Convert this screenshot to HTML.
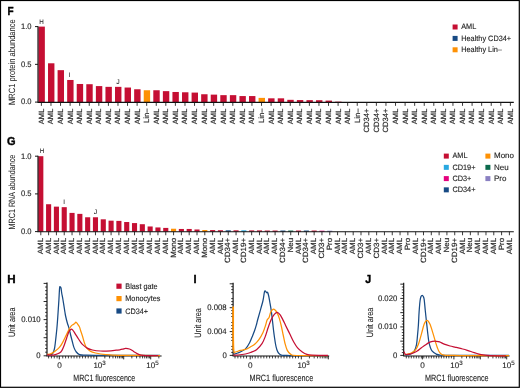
<!DOCTYPE html>
<html><head><meta charset="utf-8"><style>
html,body{margin:0;padding:0;background:#fff;}
svg{display:block;font-family:"Liberation Sans", sans-serif;will-change:transform;text-rendering:geometricPrecision;}
</style></head><body>
<svg width="520" height="388" viewBox="0 0 520 388">
<rect x="0" y="0" width="520" height="388" fill="#fff"/>
<text transform="translate(7.40,14.70) scale(0.86,1)" font-size="11.6" fill="#000" stroke="#000" stroke-width="0.4" font-weight="bold">F</text>
<text transform="translate(7.00,145.00) scale(0.95,1)" font-size="11.6" fill="#000" stroke="#000" stroke-width="0.4" font-weight="bold">G</text>
<text transform="translate(7.30,282.60) scale(1.0,1)" font-size="11.6" fill="#000" stroke="#000" stroke-width="0.4" font-weight="bold">H</text>
<text transform="translate(193.40,283.10) scale(0.95,1)" font-size="11.6" fill="#000" stroke="#000" stroke-width="0.4" font-weight="bold">I</text>
<text transform="translate(365.20,282.50) scale(0.92,1)" font-size="11.6" fill="#000" stroke="#000" stroke-width="0.4" font-weight="bold">J</text>
<rect x="38.45" y="26.60" width="6.40" height="75.75" fill="#c50f33"/>
<rect x="48.02" y="63.29" width="6.40" height="39.06" fill="#c50f33"/>
<rect x="57.59" y="70.16" width="6.40" height="32.19" fill="#c50f33"/>
<rect x="67.16" y="79.98" width="6.40" height="22.37" fill="#c50f33"/>
<rect x="76.73" y="83.98" width="6.40" height="18.37" fill="#c50f33"/>
<rect x="86.30" y="84.21" width="6.40" height="18.14" fill="#c50f33"/>
<rect x="95.88" y="86.09" width="6.40" height="16.26" fill="#c50f33"/>
<rect x="105.45" y="86.85" width="6.40" height="15.50" fill="#c50f33"/>
<rect x="115.02" y="86.85" width="6.40" height="15.50" fill="#c50f33"/>
<rect x="124.59" y="87.53" width="6.40" height="14.82" fill="#c50f33"/>
<rect x="134.16" y="89.26" width="6.40" height="13.09" fill="#c50f33"/>
<rect x="143.73" y="90.25" width="6.40" height="12.10" fill="#fe9104"/>
<rect x="153.30" y="90.25" width="6.40" height="12.10" fill="#c50f33"/>
<rect x="162.87" y="91.15" width="6.40" height="11.20" fill="#c50f33"/>
<rect x="172.44" y="91.98" width="6.40" height="10.37" fill="#c50f33"/>
<rect x="182.02" y="92.28" width="6.40" height="10.06" fill="#c50f33"/>
<rect x="191.59" y="92.59" width="6.40" height="9.76" fill="#c50f33"/>
<rect x="201.16" y="94.25" width="6.40" height="8.10" fill="#c50f33"/>
<rect x="210.73" y="94.63" width="6.40" height="7.72" fill="#c50f33"/>
<rect x="220.30" y="95.15" width="6.40" height="7.20" fill="#c50f33"/>
<rect x="229.87" y="95.15" width="6.40" height="7.20" fill="#c50f33"/>
<rect x="239.44" y="96.06" width="6.40" height="6.29" fill="#c50f33"/>
<rect x="249.01" y="96.06" width="6.40" height="6.29" fill="#c50f33"/>
<rect x="258.58" y="97.87" width="6.40" height="4.48" fill="#fe9104"/>
<rect x="268.15" y="98.32" width="6.40" height="4.03" fill="#c50f33"/>
<rect x="277.73" y="98.32" width="6.40" height="4.03" fill="#c50f33"/>
<rect x="287.30" y="99.83" width="6.40" height="2.52" fill="#c50f33"/>
<rect x="296.87" y="100.06" width="6.40" height="2.29" fill="#c50f33"/>
<rect x="306.44" y="100.14" width="6.40" height="2.21" fill="#c50f33"/>
<rect x="316.01" y="100.21" width="6.40" height="2.14" fill="#c50f33"/>
<rect x="325.58" y="100.59" width="6.40" height="1.76" fill="#c50f33"/>
<rect x="335.15" y="101.65" width="6.40" height="0.70" fill="#c50f33"/>
<path d="M38.0,26.200000000000003 V102.35 H513.8" stroke="#111" stroke-width="1.15" fill="none"/>
<path d="M35,26.60 H38.0" stroke="#1a1a1a" stroke-width="1.0"/>
<text x="31.60" y="28.90" font-size="8.0" text-anchor="end" fill="#222" stroke="#222" stroke-width="0.12" font-weight="normal" textLength="10.56" lengthAdjust="spacingAndGlyphs" >1.0</text>
<path d="M35,64.35 H38.0" stroke="#1a1a1a" stroke-width="1.0"/>
<text x="31.60" y="66.65" font-size="8.0" text-anchor="end" fill="#222" stroke="#222" stroke-width="0.12" font-weight="normal" textLength="10.56" lengthAdjust="spacingAndGlyphs" >0.5</text>
<path d="M35,102.10 H38.0" stroke="#1a1a1a" stroke-width="1.0"/>
<text x="31.60" y="104.40" font-size="8.0" text-anchor="end" fill="#222" stroke="#222" stroke-width="0.12" font-weight="normal" textLength="10.56" lengthAdjust="spacingAndGlyphs" >0.0</text>
<path d="M41.40,102.35 V105.85" stroke="#1a1a1a" stroke-width="0.85"/>
<text transform="translate(43.80,108.60) rotate(-90)" font-size="7.6" text-anchor="end" fill="#222" stroke="#222" stroke-width="0.15" textLength="15.63" lengthAdjust="spacingAndGlyphs">AML</text>
<path d="M50.97,102.35 V105.85" stroke="#1a1a1a" stroke-width="0.85"/>
<text transform="translate(53.37,108.60) rotate(-90)" font-size="7.6" text-anchor="end" fill="#222" stroke="#222" stroke-width="0.15" textLength="15.63" lengthAdjust="spacingAndGlyphs">AML</text>
<path d="M60.54,102.35 V105.85" stroke="#1a1a1a" stroke-width="0.85"/>
<text transform="translate(62.94,108.60) rotate(-90)" font-size="7.6" text-anchor="end" fill="#222" stroke="#222" stroke-width="0.15" textLength="15.63" lengthAdjust="spacingAndGlyphs">AML</text>
<path d="M70.11,102.35 V105.85" stroke="#1a1a1a" stroke-width="0.85"/>
<text transform="translate(72.51,108.60) rotate(-90)" font-size="7.6" text-anchor="end" fill="#222" stroke="#222" stroke-width="0.15" textLength="15.63" lengthAdjust="spacingAndGlyphs">AML</text>
<path d="M79.68,102.35 V105.85" stroke="#1a1a1a" stroke-width="0.85"/>
<text transform="translate(82.08,108.60) rotate(-90)" font-size="7.6" text-anchor="end" fill="#222" stroke="#222" stroke-width="0.15" textLength="15.63" lengthAdjust="spacingAndGlyphs">AML</text>
<path d="M89.25,102.35 V105.85" stroke="#1a1a1a" stroke-width="0.85"/>
<text transform="translate(91.66,108.60) rotate(-90)" font-size="7.6" text-anchor="end" fill="#222" stroke="#222" stroke-width="0.15" textLength="15.63" lengthAdjust="spacingAndGlyphs">AML</text>
<path d="M98.83,102.35 V105.85" stroke="#1a1a1a" stroke-width="0.85"/>
<text transform="translate(101.23,108.60) rotate(-90)" font-size="7.6" text-anchor="end" fill="#222" stroke="#222" stroke-width="0.15" textLength="15.63" lengthAdjust="spacingAndGlyphs">AML</text>
<path d="M108.40,102.35 V105.85" stroke="#1a1a1a" stroke-width="0.85"/>
<text transform="translate(110.80,108.60) rotate(-90)" font-size="7.6" text-anchor="end" fill="#222" stroke="#222" stroke-width="0.15" textLength="15.63" lengthAdjust="spacingAndGlyphs">AML</text>
<path d="M117.97,102.35 V105.85" stroke="#1a1a1a" stroke-width="0.85"/>
<text transform="translate(120.37,108.60) rotate(-90)" font-size="7.6" text-anchor="end" fill="#222" stroke="#222" stroke-width="0.15" textLength="15.63" lengthAdjust="spacingAndGlyphs">AML</text>
<path d="M127.54,102.35 V105.85" stroke="#1a1a1a" stroke-width="0.85"/>
<text transform="translate(129.94,108.60) rotate(-90)" font-size="7.6" text-anchor="end" fill="#222" stroke="#222" stroke-width="0.15" textLength="15.63" lengthAdjust="spacingAndGlyphs">AML</text>
<path d="M137.11,102.35 V105.85" stroke="#1a1a1a" stroke-width="0.85"/>
<text transform="translate(139.51,108.60) rotate(-90)" font-size="7.6" text-anchor="end" fill="#222" stroke="#222" stroke-width="0.15" textLength="15.63" lengthAdjust="spacingAndGlyphs">AML</text>
<path d="M146.68,102.35 V105.85" stroke="#1a1a1a" stroke-width="0.85"/>
<text transform="translate(149.08,108.60) rotate(-90)" font-size="7.6" text-anchor="end" fill="#222" stroke="#222" stroke-width="0.15" textLength="14.37" lengthAdjust="spacingAndGlyphs">Lin&#8211;</text>
<path d="M156.25,102.35 V105.85" stroke="#1a1a1a" stroke-width="0.85"/>
<text transform="translate(158.65,108.60) rotate(-90)" font-size="7.6" text-anchor="end" fill="#222" stroke="#222" stroke-width="0.15" textLength="15.63" lengthAdjust="spacingAndGlyphs">AML</text>
<path d="M165.82,102.35 V105.85" stroke="#1a1a1a" stroke-width="0.85"/>
<text transform="translate(168.22,108.60) rotate(-90)" font-size="7.6" text-anchor="end" fill="#222" stroke="#222" stroke-width="0.15" textLength="15.63" lengthAdjust="spacingAndGlyphs">AML</text>
<path d="M175.39,102.35 V105.85" stroke="#1a1a1a" stroke-width="0.85"/>
<text transform="translate(177.79,108.60) rotate(-90)" font-size="7.6" text-anchor="end" fill="#222" stroke="#222" stroke-width="0.15" textLength="15.63" lengthAdjust="spacingAndGlyphs">AML</text>
<path d="M184.97,102.35 V105.85" stroke="#1a1a1a" stroke-width="0.85"/>
<text transform="translate(187.37,108.60) rotate(-90)" font-size="7.6" text-anchor="end" fill="#222" stroke="#222" stroke-width="0.15" textLength="15.63" lengthAdjust="spacingAndGlyphs">AML</text>
<path d="M194.54,102.35 V105.85" stroke="#1a1a1a" stroke-width="0.85"/>
<text transform="translate(196.94,108.60) rotate(-90)" font-size="7.6" text-anchor="end" fill="#222" stroke="#222" stroke-width="0.15" textLength="15.63" lengthAdjust="spacingAndGlyphs">AML</text>
<path d="M204.11,102.35 V105.85" stroke="#1a1a1a" stroke-width="0.85"/>
<text transform="translate(206.51,108.60) rotate(-90)" font-size="7.6" text-anchor="end" fill="#222" stroke="#222" stroke-width="0.15" textLength="15.63" lengthAdjust="spacingAndGlyphs">AML</text>
<path d="M213.68,102.35 V105.85" stroke="#1a1a1a" stroke-width="0.85"/>
<text transform="translate(216.08,108.60) rotate(-90)" font-size="7.6" text-anchor="end" fill="#222" stroke="#222" stroke-width="0.15" textLength="15.63" lengthAdjust="spacingAndGlyphs">AML</text>
<path d="M223.25,102.35 V105.85" stroke="#1a1a1a" stroke-width="0.85"/>
<text transform="translate(225.65,108.60) rotate(-90)" font-size="7.6" text-anchor="end" fill="#222" stroke="#222" stroke-width="0.15" textLength="15.63" lengthAdjust="spacingAndGlyphs">AML</text>
<path d="M232.82,102.35 V105.85" stroke="#1a1a1a" stroke-width="0.85"/>
<text transform="translate(235.22,108.60) rotate(-90)" font-size="7.6" text-anchor="end" fill="#222" stroke="#222" stroke-width="0.15" textLength="15.63" lengthAdjust="spacingAndGlyphs">AML</text>
<path d="M242.39,102.35 V105.85" stroke="#1a1a1a" stroke-width="0.85"/>
<text transform="translate(244.79,108.60) rotate(-90)" font-size="7.6" text-anchor="end" fill="#222" stroke="#222" stroke-width="0.15" textLength="15.63" lengthAdjust="spacingAndGlyphs">AML</text>
<path d="M251.96,102.35 V105.85" stroke="#1a1a1a" stroke-width="0.85"/>
<text transform="translate(254.36,108.60) rotate(-90)" font-size="7.6" text-anchor="end" fill="#222" stroke="#222" stroke-width="0.15" textLength="15.63" lengthAdjust="spacingAndGlyphs">AML</text>
<path d="M261.53,102.35 V105.85" stroke="#1a1a1a" stroke-width="0.85"/>
<text transform="translate(263.93,108.60) rotate(-90)" font-size="7.6" text-anchor="end" fill="#222" stroke="#222" stroke-width="0.15" textLength="14.37" lengthAdjust="spacingAndGlyphs">Lin&#8211;</text>
<path d="M271.10,102.35 V105.85" stroke="#1a1a1a" stroke-width="0.85"/>
<text transform="translate(273.50,108.60) rotate(-90)" font-size="7.6" text-anchor="end" fill="#222" stroke="#222" stroke-width="0.15" textLength="15.63" lengthAdjust="spacingAndGlyphs">AML</text>
<path d="M280.68,102.35 V105.85" stroke="#1a1a1a" stroke-width="0.85"/>
<text transform="translate(283.07,108.60) rotate(-90)" font-size="7.6" text-anchor="end" fill="#222" stroke="#222" stroke-width="0.15" textLength="15.63" lengthAdjust="spacingAndGlyphs">AML</text>
<path d="M290.25,102.35 V105.85" stroke="#1a1a1a" stroke-width="0.85"/>
<text transform="translate(292.65,108.60) rotate(-90)" font-size="7.6" text-anchor="end" fill="#222" stroke="#222" stroke-width="0.15" textLength="15.63" lengthAdjust="spacingAndGlyphs">AML</text>
<path d="M299.82,102.35 V105.85" stroke="#1a1a1a" stroke-width="0.85"/>
<text transform="translate(302.22,108.60) rotate(-90)" font-size="7.6" text-anchor="end" fill="#222" stroke="#222" stroke-width="0.15" textLength="15.63" lengthAdjust="spacingAndGlyphs">AML</text>
<path d="M309.39,102.35 V105.85" stroke="#1a1a1a" stroke-width="0.85"/>
<text transform="translate(311.79,108.60) rotate(-90)" font-size="7.6" text-anchor="end" fill="#222" stroke="#222" stroke-width="0.15" textLength="15.63" lengthAdjust="spacingAndGlyphs">AML</text>
<path d="M318.96,102.35 V105.85" stroke="#1a1a1a" stroke-width="0.85"/>
<text transform="translate(321.36,108.60) rotate(-90)" font-size="7.6" text-anchor="end" fill="#222" stroke="#222" stroke-width="0.15" textLength="15.63" lengthAdjust="spacingAndGlyphs">AML</text>
<path d="M328.53,102.35 V105.85" stroke="#1a1a1a" stroke-width="0.85"/>
<text transform="translate(330.93,108.60) rotate(-90)" font-size="7.6" text-anchor="end" fill="#222" stroke="#222" stroke-width="0.15" textLength="15.63" lengthAdjust="spacingAndGlyphs">AML</text>
<path d="M338.10,102.35 V105.85" stroke="#1a1a1a" stroke-width="0.85"/>
<text transform="translate(340.50,108.60) rotate(-90)" font-size="7.6" text-anchor="end" fill="#222" stroke="#222" stroke-width="0.15" textLength="15.63" lengthAdjust="spacingAndGlyphs">AML</text>
<path d="M347.67,102.35 V105.85" stroke="#1a1a1a" stroke-width="0.85"/>
<text transform="translate(350.07,108.60) rotate(-90)" font-size="7.6" text-anchor="end" fill="#222" stroke="#222" stroke-width="0.15" textLength="15.63" lengthAdjust="spacingAndGlyphs">AML</text>
<path d="M357.24,102.35 V105.85" stroke="#1a1a1a" stroke-width="0.85"/>
<text transform="translate(359.64,108.60) rotate(-90)" font-size="7.6" text-anchor="end" fill="#222" stroke="#222" stroke-width="0.15" textLength="14.37" lengthAdjust="spacingAndGlyphs">Lin&#8211;</text>
<path d="M366.81,102.35 V105.85" stroke="#1a1a1a" stroke-width="0.85"/>
<text transform="translate(369.21,108.60) rotate(-90)" font-size="7.6" text-anchor="end" fill="#222" stroke="#222" stroke-width="0.15" textLength="23.87" lengthAdjust="spacingAndGlyphs">CD34+</text>
<path d="M376.38,102.35 V105.85" stroke="#1a1a1a" stroke-width="0.85"/>
<text transform="translate(378.78,108.60) rotate(-90)" font-size="7.6" text-anchor="end" fill="#222" stroke="#222" stroke-width="0.15" textLength="23.87" lengthAdjust="spacingAndGlyphs">CD34+</text>
<path d="M385.96,102.35 V105.85" stroke="#1a1a1a" stroke-width="0.85"/>
<text transform="translate(388.36,108.60) rotate(-90)" font-size="7.6" text-anchor="end" fill="#222" stroke="#222" stroke-width="0.15" textLength="23.87" lengthAdjust="spacingAndGlyphs">CD34+</text>
<path d="M395.53,102.35 V105.85" stroke="#1a1a1a" stroke-width="0.85"/>
<text transform="translate(397.93,108.60) rotate(-90)" font-size="7.6" text-anchor="end" fill="#222" stroke="#222" stroke-width="0.15" textLength="15.63" lengthAdjust="spacingAndGlyphs">AML</text>
<path d="M405.10,102.35 V105.85" stroke="#1a1a1a" stroke-width="0.85"/>
<text transform="translate(407.50,108.60) rotate(-90)" font-size="7.6" text-anchor="end" fill="#222" stroke="#222" stroke-width="0.15" textLength="15.63" lengthAdjust="spacingAndGlyphs">AML</text>
<path d="M414.67,102.35 V105.85" stroke="#1a1a1a" stroke-width="0.85"/>
<text transform="translate(417.07,108.60) rotate(-90)" font-size="7.6" text-anchor="end" fill="#222" stroke="#222" stroke-width="0.15" textLength="15.63" lengthAdjust="spacingAndGlyphs">AML</text>
<path d="M424.24,102.35 V105.85" stroke="#1a1a1a" stroke-width="0.85"/>
<text transform="translate(426.64,108.60) rotate(-90)" font-size="7.6" text-anchor="end" fill="#222" stroke="#222" stroke-width="0.15" textLength="15.63" lengthAdjust="spacingAndGlyphs">AML</text>
<path d="M433.81,102.35 V105.85" stroke="#1a1a1a" stroke-width="0.85"/>
<text transform="translate(436.21,108.60) rotate(-90)" font-size="7.6" text-anchor="end" fill="#222" stroke="#222" stroke-width="0.15" textLength="15.63" lengthAdjust="spacingAndGlyphs">AML</text>
<path d="M443.38,102.35 V105.85" stroke="#1a1a1a" stroke-width="0.85"/>
<text transform="translate(445.78,108.60) rotate(-90)" font-size="7.6" text-anchor="end" fill="#222" stroke="#222" stroke-width="0.15" textLength="15.63" lengthAdjust="spacingAndGlyphs">AML</text>
<path d="M452.95,102.35 V105.85" stroke="#1a1a1a" stroke-width="0.85"/>
<text transform="translate(455.35,108.60) rotate(-90)" font-size="7.6" text-anchor="end" fill="#222" stroke="#222" stroke-width="0.15" textLength="15.63" lengthAdjust="spacingAndGlyphs">AML</text>
<path d="M462.52,102.35 V105.85" stroke="#1a1a1a" stroke-width="0.85"/>
<text transform="translate(464.92,108.60) rotate(-90)" font-size="7.6" text-anchor="end" fill="#222" stroke="#222" stroke-width="0.15" textLength="15.63" lengthAdjust="spacingAndGlyphs">AML</text>
<path d="M472.09,102.35 V105.85" stroke="#1a1a1a" stroke-width="0.85"/>
<text transform="translate(474.49,108.60) rotate(-90)" font-size="7.6" text-anchor="end" fill="#222" stroke="#222" stroke-width="0.15" textLength="15.63" lengthAdjust="spacingAndGlyphs">AML</text>
<path d="M481.67,102.35 V105.85" stroke="#1a1a1a" stroke-width="0.85"/>
<text transform="translate(484.07,108.60) rotate(-90)" font-size="7.6" text-anchor="end" fill="#222" stroke="#222" stroke-width="0.15" textLength="15.63" lengthAdjust="spacingAndGlyphs">AML</text>
<path d="M491.24,102.35 V105.85" stroke="#1a1a1a" stroke-width="0.85"/>
<text transform="translate(493.64,108.60) rotate(-90)" font-size="7.6" text-anchor="end" fill="#222" stroke="#222" stroke-width="0.15" textLength="15.63" lengthAdjust="spacingAndGlyphs">AML</text>
<path d="M500.81,102.35 V105.85" stroke="#1a1a1a" stroke-width="0.85"/>
<text transform="translate(503.21,108.60) rotate(-90)" font-size="7.6" text-anchor="end" fill="#222" stroke="#222" stroke-width="0.15" textLength="15.63" lengthAdjust="spacingAndGlyphs">AML</text>
<path d="M510.38,102.35 V105.85" stroke="#1a1a1a" stroke-width="0.85"/>
<text transform="translate(512.78,108.60) rotate(-90)" font-size="7.6" text-anchor="end" fill="#222" stroke="#222" stroke-width="0.15" textLength="15.63" lengthAdjust="spacingAndGlyphs">AML</text>
<text transform="translate(14.50,62.15) rotate(-90)" font-size="9.1" text-anchor="middle" fill="#222" stroke="#222" stroke-width="0.03" textLength="85.50" lengthAdjust="spacingAndGlyphs">MRC1 protein abundance</text>
<text x="41.40" y="23.70" font-size="6.6" text-anchor="middle" fill="#222" stroke="#222" stroke-width="0.06" font-weight="normal" textLength="4.53" lengthAdjust="spacingAndGlyphs" >H</text>
<text x="69.51" y="76.60" font-size="6.6" text-anchor="middle" fill="#222" stroke="#222" stroke-width="0.06" font-weight="normal" textLength="1.74" lengthAdjust="spacingAndGlyphs" >I</text>
<text x="117.97" y="83.80" font-size="6.6" text-anchor="middle" fill="#222" stroke="#222" stroke-width="0.06" font-weight="normal" textLength="3.13" lengthAdjust="spacingAndGlyphs" >J</text>
<rect x="38.25" y="156.20" width="5.10" height="75.55" fill="#c50f33"/>
<rect x="46.06" y="204.23" width="5.10" height="27.52" fill="#c50f33"/>
<rect x="53.87" y="206.64" width="5.10" height="25.11" fill="#c50f33"/>
<rect x="61.68" y="207.17" width="5.10" height="24.58" fill="#c50f33"/>
<rect x="69.49" y="212.90" width="5.10" height="18.85" fill="#c50f33"/>
<rect x="77.30" y="213.88" width="5.10" height="17.87" fill="#c50f33"/>
<rect x="85.11" y="217.27" width="5.10" height="14.48" fill="#c50f33"/>
<rect x="92.92" y="217.27" width="5.10" height="14.48" fill="#c50f33"/>
<rect x="100.73" y="219.31" width="5.10" height="12.44" fill="#c50f33"/>
<rect x="108.54" y="220.67" width="5.10" height="11.08" fill="#c50f33"/>
<rect x="116.35" y="220.89" width="5.10" height="10.86" fill="#c50f33"/>
<rect x="124.16" y="222.02" width="5.10" height="9.73" fill="#c50f33"/>
<rect x="131.97" y="223.08" width="5.10" height="8.67" fill="#c50f33"/>
<rect x="139.78" y="224.21" width="5.10" height="7.54" fill="#c50f33"/>
<rect x="147.59" y="226.47" width="5.10" height="5.28" fill="#c50f33"/>
<rect x="155.40" y="227.45" width="5.10" height="4.30" fill="#c50f33"/>
<rect x="163.21" y="227.91" width="5.10" height="3.84" fill="#c50f33"/>
<rect x="171.02" y="228.73" width="5.10" height="3.02" fill="#fe9104"/>
<rect x="178.83" y="228.96" width="5.10" height="2.79" fill="#c50f33"/>
<rect x="186.64" y="228.96" width="5.10" height="2.79" fill="#c50f33"/>
<rect x="194.45" y="229.49" width="5.10" height="2.26" fill="#c50f33"/>
<rect x="202.26" y="230.02" width="5.10" height="1.73" fill="#fe9104"/>
<rect x="210.07" y="230.09" width="5.10" height="1.66" fill="#c50f33"/>
<rect x="217.88" y="230.24" width="5.10" height="1.51" fill="#c50f33"/>
<rect x="225.69" y="230.32" width="5.10" height="1.43" fill="#174a84"/>
<rect x="233.50" y="230.32" width="5.10" height="1.43" fill="#c50f33"/>
<rect x="241.31" y="230.32" width="5.10" height="1.43" fill="#29a8e0"/>
<rect x="249.12" y="230.39" width="5.10" height="1.36" fill="#c50f33"/>
<rect x="256.93" y="230.39" width="5.10" height="1.36" fill="#c50f33"/>
<rect x="264.74" y="230.54" width="5.10" height="1.21" fill="#c50f33"/>
<rect x="272.55" y="230.54" width="5.10" height="1.21" fill="#c50f33"/>
<rect x="280.36" y="230.54" width="5.10" height="1.21" fill="#174a84"/>
<rect x="288.17" y="230.54" width="5.10" height="1.21" fill="#0b6a4c"/>
<rect x="295.98" y="230.54" width="5.10" height="1.21" fill="#c50f33"/>
<rect x="303.79" y="230.54" width="5.10" height="1.21" fill="#174a84"/>
<rect x="311.60" y="230.54" width="5.10" height="1.21" fill="#c50f33"/>
<rect x="319.41" y="230.70" width="5.10" height="1.05" fill="#e5007e"/>
<rect x="327.22" y="230.70" width="5.10" height="1.05" fill="#8a80c2"/>
<path d="M38.0,155.79999999999998 V231.75 H513.8" stroke="#111" stroke-width="1.15" fill="none"/>
<path d="M35,156.20 H38.0" stroke="#1a1a1a" stroke-width="1.0"/>
<text x="31.60" y="158.50" font-size="8.0" text-anchor="end" fill="#222" stroke="#222" stroke-width="0.12" font-weight="normal" textLength="10.56" lengthAdjust="spacingAndGlyphs" >1.0</text>
<path d="M35,193.90 H38.0" stroke="#1a1a1a" stroke-width="1.0"/>
<text x="31.60" y="196.20" font-size="8.0" text-anchor="end" fill="#222" stroke="#222" stroke-width="0.12" font-weight="normal" textLength="10.56" lengthAdjust="spacingAndGlyphs" >0.5</text>
<path d="M35,231.60 H38.0" stroke="#1a1a1a" stroke-width="1.0"/>
<text x="31.60" y="233.90" font-size="8.0" text-anchor="end" fill="#222" stroke="#222" stroke-width="0.12" font-weight="normal" textLength="10.56" lengthAdjust="spacingAndGlyphs" >0.0</text>
<path d="M40.80,231.75 V235.25" stroke="#1a1a1a" stroke-width="0.85"/>
<text transform="translate(42.90,237.90) rotate(-90)" font-size="7.6" text-anchor="end" fill="#222" stroke="#222" stroke-width="0.15" textLength="16.41" lengthAdjust="spacingAndGlyphs">AML</text>
<path d="M48.61,231.75 V235.25" stroke="#1a1a1a" stroke-width="0.85"/>
<text transform="translate(50.71,237.90) rotate(-90)" font-size="7.6" text-anchor="end" fill="#222" stroke="#222" stroke-width="0.15" textLength="16.41" lengthAdjust="spacingAndGlyphs">AML</text>
<path d="M56.42,231.75 V235.25" stroke="#1a1a1a" stroke-width="0.85"/>
<text transform="translate(58.52,237.90) rotate(-90)" font-size="7.6" text-anchor="end" fill="#222" stroke="#222" stroke-width="0.15" textLength="16.41" lengthAdjust="spacingAndGlyphs">AML</text>
<path d="M64.23,231.75 V235.25" stroke="#1a1a1a" stroke-width="0.85"/>
<text transform="translate(66.33,237.90) rotate(-90)" font-size="7.6" text-anchor="end" fill="#222" stroke="#222" stroke-width="0.15" textLength="16.41" lengthAdjust="spacingAndGlyphs">AML</text>
<path d="M72.04,231.75 V235.25" stroke="#1a1a1a" stroke-width="0.85"/>
<text transform="translate(74.14,237.90) rotate(-90)" font-size="7.6" text-anchor="end" fill="#222" stroke="#222" stroke-width="0.15" textLength="16.41" lengthAdjust="spacingAndGlyphs">AML</text>
<path d="M79.85,231.75 V235.25" stroke="#1a1a1a" stroke-width="0.85"/>
<text transform="translate(81.95,237.90) rotate(-90)" font-size="7.6" text-anchor="end" fill="#222" stroke="#222" stroke-width="0.15" textLength="16.41" lengthAdjust="spacingAndGlyphs">AML</text>
<path d="M87.66,231.75 V235.25" stroke="#1a1a1a" stroke-width="0.85"/>
<text transform="translate(89.76,237.90) rotate(-90)" font-size="7.6" text-anchor="end" fill="#222" stroke="#222" stroke-width="0.15" textLength="16.41" lengthAdjust="spacingAndGlyphs">AML</text>
<path d="M95.47,231.75 V235.25" stroke="#1a1a1a" stroke-width="0.85"/>
<text transform="translate(97.57,237.90) rotate(-90)" font-size="7.6" text-anchor="end" fill="#222" stroke="#222" stroke-width="0.15" textLength="16.41" lengthAdjust="spacingAndGlyphs">AML</text>
<path d="M103.28,231.75 V235.25" stroke="#1a1a1a" stroke-width="0.85"/>
<text transform="translate(105.38,237.90) rotate(-90)" font-size="7.6" text-anchor="end" fill="#222" stroke="#222" stroke-width="0.15" textLength="16.41" lengthAdjust="spacingAndGlyphs">AML</text>
<path d="M111.09,231.75 V235.25" stroke="#1a1a1a" stroke-width="0.85"/>
<text transform="translate(113.19,237.90) rotate(-90)" font-size="7.6" text-anchor="end" fill="#222" stroke="#222" stroke-width="0.15" textLength="16.41" lengthAdjust="spacingAndGlyphs">AML</text>
<path d="M118.90,231.75 V235.25" stroke="#1a1a1a" stroke-width="0.85"/>
<text transform="translate(121.00,237.90) rotate(-90)" font-size="7.6" text-anchor="end" fill="#222" stroke="#222" stroke-width="0.15" textLength="16.41" lengthAdjust="spacingAndGlyphs">AML</text>
<path d="M126.71,231.75 V235.25" stroke="#1a1a1a" stroke-width="0.85"/>
<text transform="translate(128.81,237.90) rotate(-90)" font-size="7.6" text-anchor="end" fill="#222" stroke="#222" stroke-width="0.15" textLength="16.41" lengthAdjust="spacingAndGlyphs">AML</text>
<path d="M134.52,231.75 V235.25" stroke="#1a1a1a" stroke-width="0.85"/>
<text transform="translate(136.62,237.90) rotate(-90)" font-size="7.6" text-anchor="end" fill="#222" stroke="#222" stroke-width="0.15" textLength="16.41" lengthAdjust="spacingAndGlyphs">AML</text>
<path d="M142.33,231.75 V235.25" stroke="#1a1a1a" stroke-width="0.85"/>
<text transform="translate(144.43,237.90) rotate(-90)" font-size="7.6" text-anchor="end" fill="#222" stroke="#222" stroke-width="0.15" textLength="16.41" lengthAdjust="spacingAndGlyphs">AML</text>
<path d="M150.14,231.75 V235.25" stroke="#1a1a1a" stroke-width="0.85"/>
<text transform="translate(152.24,237.90) rotate(-90)" font-size="7.6" text-anchor="end" fill="#222" stroke="#222" stroke-width="0.15" textLength="16.41" lengthAdjust="spacingAndGlyphs">AML</text>
<path d="M157.95,231.75 V235.25" stroke="#1a1a1a" stroke-width="0.85"/>
<text transform="translate(160.05,237.90) rotate(-90)" font-size="7.6" text-anchor="end" fill="#222" stroke="#222" stroke-width="0.15" textLength="16.41" lengthAdjust="spacingAndGlyphs">AML</text>
<path d="M165.76,231.75 V235.25" stroke="#1a1a1a" stroke-width="0.85"/>
<text transform="translate(167.86,237.90) rotate(-90)" font-size="7.6" text-anchor="end" fill="#222" stroke="#222" stroke-width="0.15" textLength="16.41" lengthAdjust="spacingAndGlyphs">AML</text>
<path d="M173.57,231.75 V235.25" stroke="#1a1a1a" stroke-width="0.85"/>
<text transform="translate(175.67,237.90) rotate(-90)" font-size="7.6" text-anchor="end" fill="#222" stroke="#222" stroke-width="0.15" textLength="19.96" lengthAdjust="spacingAndGlyphs">Mono</text>
<path d="M181.38,231.75 V235.25" stroke="#1a1a1a" stroke-width="0.85"/>
<text transform="translate(183.48,237.90) rotate(-90)" font-size="7.6" text-anchor="end" fill="#222" stroke="#222" stroke-width="0.15" textLength="16.41" lengthAdjust="spacingAndGlyphs">AML</text>
<path d="M189.19,231.75 V235.25" stroke="#1a1a1a" stroke-width="0.85"/>
<text transform="translate(191.29,237.90) rotate(-90)" font-size="7.6" text-anchor="end" fill="#222" stroke="#222" stroke-width="0.15" textLength="16.41" lengthAdjust="spacingAndGlyphs">AML</text>
<path d="M197.00,231.75 V235.25" stroke="#1a1a1a" stroke-width="0.85"/>
<text transform="translate(199.10,237.90) rotate(-90)" font-size="7.6" text-anchor="end" fill="#222" stroke="#222" stroke-width="0.15" textLength="16.41" lengthAdjust="spacingAndGlyphs">AML</text>
<path d="M204.81,231.75 V235.25" stroke="#1a1a1a" stroke-width="0.85"/>
<text transform="translate(206.91,237.90) rotate(-90)" font-size="7.6" text-anchor="end" fill="#222" stroke="#222" stroke-width="0.15" textLength="19.96" lengthAdjust="spacingAndGlyphs">Mono</text>
<path d="M212.62,231.75 V235.25" stroke="#1a1a1a" stroke-width="0.85"/>
<text transform="translate(214.72,237.90) rotate(-90)" font-size="7.6" text-anchor="end" fill="#222" stroke="#222" stroke-width="0.15" textLength="16.41" lengthAdjust="spacingAndGlyphs">AML</text>
<path d="M220.43,231.75 V235.25" stroke="#1a1a1a" stroke-width="0.85"/>
<text transform="translate(222.53,237.90) rotate(-90)" font-size="7.6" text-anchor="end" fill="#222" stroke="#222" stroke-width="0.15" textLength="16.41" lengthAdjust="spacingAndGlyphs">AML</text>
<path d="M228.24,231.75 V235.25" stroke="#1a1a1a" stroke-width="0.85"/>
<text transform="translate(230.34,237.90) rotate(-90)" font-size="7.6" text-anchor="end" fill="#222" stroke="#222" stroke-width="0.15" textLength="25.06" lengthAdjust="spacingAndGlyphs">CD34+</text>
<path d="M236.05,231.75 V235.25" stroke="#1a1a1a" stroke-width="0.85"/>
<text transform="translate(238.15,237.90) rotate(-90)" font-size="7.6" text-anchor="end" fill="#222" stroke="#222" stroke-width="0.15" textLength="16.41" lengthAdjust="spacingAndGlyphs">AML</text>
<path d="M243.86,231.75 V235.25" stroke="#1a1a1a" stroke-width="0.85"/>
<text transform="translate(245.96,237.90) rotate(-90)" font-size="7.6" text-anchor="end" fill="#222" stroke="#222" stroke-width="0.15" textLength="25.06" lengthAdjust="spacingAndGlyphs">CD19+</text>
<path d="M251.67,231.75 V235.25" stroke="#1a1a1a" stroke-width="0.85"/>
<text transform="translate(253.77,237.90) rotate(-90)" font-size="7.6" text-anchor="end" fill="#222" stroke="#222" stroke-width="0.15" textLength="16.41" lengthAdjust="spacingAndGlyphs">AML</text>
<path d="M259.48,231.75 V235.25" stroke="#1a1a1a" stroke-width="0.85"/>
<text transform="translate(261.58,237.90) rotate(-90)" font-size="7.6" text-anchor="end" fill="#222" stroke="#222" stroke-width="0.15" textLength="16.41" lengthAdjust="spacingAndGlyphs">AML</text>
<path d="M267.29,231.75 V235.25" stroke="#1a1a1a" stroke-width="0.85"/>
<text transform="translate(269.39,237.90) rotate(-90)" font-size="7.6" text-anchor="end" fill="#222" stroke="#222" stroke-width="0.15" textLength="16.41" lengthAdjust="spacingAndGlyphs">AML</text>
<path d="M275.10,231.75 V235.25" stroke="#1a1a1a" stroke-width="0.85"/>
<text transform="translate(277.20,237.90) rotate(-90)" font-size="7.6" text-anchor="end" fill="#222" stroke="#222" stroke-width="0.15" textLength="16.41" lengthAdjust="spacingAndGlyphs">AML</text>
<path d="M282.91,231.75 V235.25" stroke="#1a1a1a" stroke-width="0.85"/>
<text transform="translate(285.01,237.90) rotate(-90)" font-size="7.6" text-anchor="end" fill="#222" stroke="#222" stroke-width="0.15" textLength="25.06" lengthAdjust="spacingAndGlyphs">CD34+</text>
<path d="M290.72,231.75 V235.25" stroke="#1a1a1a" stroke-width="0.85"/>
<text transform="translate(292.82,237.90) rotate(-90)" font-size="7.6" text-anchor="end" fill="#222" stroke="#222" stroke-width="0.15" textLength="14.64" lengthAdjust="spacingAndGlyphs">Neu</text>
<path d="M298.53,231.75 V235.25" stroke="#1a1a1a" stroke-width="0.85"/>
<text transform="translate(300.63,237.90) rotate(-90)" font-size="7.6" text-anchor="end" fill="#222" stroke="#222" stroke-width="0.15" textLength="16.41" lengthAdjust="spacingAndGlyphs">AML</text>
<path d="M306.34,231.75 V235.25" stroke="#1a1a1a" stroke-width="0.85"/>
<text transform="translate(308.44,237.90) rotate(-90)" font-size="7.6" text-anchor="end" fill="#222" stroke="#222" stroke-width="0.15" textLength="25.06" lengthAdjust="spacingAndGlyphs">CD34+</text>
<path d="M314.15,231.75 V235.25" stroke="#1a1a1a" stroke-width="0.85"/>
<text transform="translate(316.25,237.90) rotate(-90)" font-size="7.6" text-anchor="end" fill="#222" stroke="#222" stroke-width="0.15" textLength="16.41" lengthAdjust="spacingAndGlyphs">AML</text>
<path d="M321.96,231.75 V235.25" stroke="#1a1a1a" stroke-width="0.85"/>
<text transform="translate(324.06,237.90) rotate(-90)" font-size="7.6" text-anchor="end" fill="#222" stroke="#222" stroke-width="0.15" textLength="20.62" lengthAdjust="spacingAndGlyphs">CD3+</text>
<path d="M329.77,231.75 V235.25" stroke="#1a1a1a" stroke-width="0.85"/>
<text transform="translate(331.87,237.90) rotate(-90)" font-size="7.6" text-anchor="end" fill="#222" stroke="#222" stroke-width="0.15" textLength="12.42" lengthAdjust="spacingAndGlyphs">Pro</text>
<path d="M337.58,231.75 V235.25" stroke="#1a1a1a" stroke-width="0.85"/>
<text transform="translate(339.68,237.90) rotate(-90)" font-size="7.6" text-anchor="end" fill="#222" stroke="#222" stroke-width="0.15" textLength="16.41" lengthAdjust="spacingAndGlyphs">AML</text>
<path d="M345.39,231.75 V235.25" stroke="#1a1a1a" stroke-width="0.85"/>
<text transform="translate(347.49,237.90) rotate(-90)" font-size="7.6" text-anchor="end" fill="#222" stroke="#222" stroke-width="0.15" textLength="16.41" lengthAdjust="spacingAndGlyphs">AML</text>
<path d="M353.20,231.75 V235.25" stroke="#1a1a1a" stroke-width="0.85"/>
<text transform="translate(355.30,237.90) rotate(-90)" font-size="7.6" text-anchor="end" fill="#222" stroke="#222" stroke-width="0.15" textLength="16.41" lengthAdjust="spacingAndGlyphs">AML</text>
<path d="M361.01,231.75 V235.25" stroke="#1a1a1a" stroke-width="0.85"/>
<text transform="translate(363.11,237.90) rotate(-90)" font-size="7.6" text-anchor="end" fill="#222" stroke="#222" stroke-width="0.15" textLength="20.62" lengthAdjust="spacingAndGlyphs">CD3+</text>
<path d="M368.82,231.75 V235.25" stroke="#1a1a1a" stroke-width="0.85"/>
<text transform="translate(370.92,237.90) rotate(-90)" font-size="7.6" text-anchor="end" fill="#222" stroke="#222" stroke-width="0.15" textLength="16.41" lengthAdjust="spacingAndGlyphs">AML</text>
<path d="M376.63,231.75 V235.25" stroke="#1a1a1a" stroke-width="0.85"/>
<text transform="translate(378.73,237.90) rotate(-90)" font-size="7.6" text-anchor="end" fill="#222" stroke="#222" stroke-width="0.15" textLength="20.62" lengthAdjust="spacingAndGlyphs">CD3+</text>
<path d="M384.44,231.75 V235.25" stroke="#1a1a1a" stroke-width="0.85"/>
<text transform="translate(386.54,237.90) rotate(-90)" font-size="7.6" text-anchor="end" fill="#222" stroke="#222" stroke-width="0.15" textLength="16.41" lengthAdjust="spacingAndGlyphs">AML</text>
<path d="M392.25,231.75 V235.25" stroke="#1a1a1a" stroke-width="0.85"/>
<text transform="translate(394.35,237.90) rotate(-90)" font-size="7.6" text-anchor="end" fill="#222" stroke="#222" stroke-width="0.15" textLength="16.41" lengthAdjust="spacingAndGlyphs">AML</text>
<path d="M400.06,231.75 V235.25" stroke="#1a1a1a" stroke-width="0.85"/>
<text transform="translate(402.16,237.90) rotate(-90)" font-size="7.6" text-anchor="end" fill="#222" stroke="#222" stroke-width="0.15" textLength="16.41" lengthAdjust="spacingAndGlyphs">AML</text>
<path d="M407.87,231.75 V235.25" stroke="#1a1a1a" stroke-width="0.85"/>
<text transform="translate(409.97,237.90) rotate(-90)" font-size="7.6" text-anchor="end" fill="#222" stroke="#222" stroke-width="0.15" textLength="12.42" lengthAdjust="spacingAndGlyphs">Pro</text>
<path d="M415.68,231.75 V235.25" stroke="#1a1a1a" stroke-width="0.85"/>
<text transform="translate(417.78,237.90) rotate(-90)" font-size="7.6" text-anchor="end" fill="#222" stroke="#222" stroke-width="0.15" textLength="16.41" lengthAdjust="spacingAndGlyphs">AML</text>
<path d="M423.49,231.75 V235.25" stroke="#1a1a1a" stroke-width="0.85"/>
<text transform="translate(425.59,237.90) rotate(-90)" font-size="7.6" text-anchor="end" fill="#222" stroke="#222" stroke-width="0.15" textLength="25.06" lengthAdjust="spacingAndGlyphs">CD19+</text>
<path d="M431.30,231.75 V235.25" stroke="#1a1a1a" stroke-width="0.85"/>
<text transform="translate(433.40,237.90) rotate(-90)" font-size="7.6" text-anchor="end" fill="#222" stroke="#222" stroke-width="0.15" textLength="16.41" lengthAdjust="spacingAndGlyphs">AML</text>
<path d="M439.11,231.75 V235.25" stroke="#1a1a1a" stroke-width="0.85"/>
<text transform="translate(441.21,237.90) rotate(-90)" font-size="7.6" text-anchor="end" fill="#222" stroke="#222" stroke-width="0.15" textLength="16.41" lengthAdjust="spacingAndGlyphs">AML</text>
<path d="M446.92,231.75 V235.25" stroke="#1a1a1a" stroke-width="0.85"/>
<text transform="translate(449.02,237.90) rotate(-90)" font-size="7.6" text-anchor="end" fill="#222" stroke="#222" stroke-width="0.15" textLength="14.64" lengthAdjust="spacingAndGlyphs">Neu</text>
<path d="M454.73,231.75 V235.25" stroke="#1a1a1a" stroke-width="0.85"/>
<text transform="translate(456.83,237.90) rotate(-90)" font-size="7.6" text-anchor="end" fill="#222" stroke="#222" stroke-width="0.15" textLength="25.06" lengthAdjust="spacingAndGlyphs">CD19+</text>
<path d="M462.54,231.75 V235.25" stroke="#1a1a1a" stroke-width="0.85"/>
<text transform="translate(464.64,237.90) rotate(-90)" font-size="7.6" text-anchor="end" fill="#222" stroke="#222" stroke-width="0.15" textLength="16.41" lengthAdjust="spacingAndGlyphs">AML</text>
<path d="M470.35,231.75 V235.25" stroke="#1a1a1a" stroke-width="0.85"/>
<text transform="translate(472.45,237.90) rotate(-90)" font-size="7.6" text-anchor="end" fill="#222" stroke="#222" stroke-width="0.15" textLength="14.64" lengthAdjust="spacingAndGlyphs">Neu</text>
<path d="M478.16,231.75 V235.25" stroke="#1a1a1a" stroke-width="0.85"/>
<text transform="translate(480.26,237.90) rotate(-90)" font-size="7.6" text-anchor="end" fill="#222" stroke="#222" stroke-width="0.15" textLength="16.41" lengthAdjust="spacingAndGlyphs">AML</text>
<path d="M485.97,231.75 V235.25" stroke="#1a1a1a" stroke-width="0.85"/>
<text transform="translate(488.07,237.90) rotate(-90)" font-size="7.6" text-anchor="end" fill="#222" stroke="#222" stroke-width="0.15" textLength="16.41" lengthAdjust="spacingAndGlyphs">AML</text>
<path d="M493.78,231.75 V235.25" stroke="#1a1a1a" stroke-width="0.85"/>
<text transform="translate(495.88,237.90) rotate(-90)" font-size="7.6" text-anchor="end" fill="#222" stroke="#222" stroke-width="0.15" textLength="16.41" lengthAdjust="spacingAndGlyphs">AML</text>
<path d="M501.59,231.75 V235.25" stroke="#1a1a1a" stroke-width="0.85"/>
<text transform="translate(503.69,237.90) rotate(-90)" font-size="7.6" text-anchor="end" fill="#222" stroke="#222" stroke-width="0.15" textLength="12.42" lengthAdjust="spacingAndGlyphs">Pro</text>
<path d="M509.40,231.75 V235.25" stroke="#1a1a1a" stroke-width="0.85"/>
<text transform="translate(511.50,237.90) rotate(-90)" font-size="7.6" text-anchor="end" fill="#222" stroke="#222" stroke-width="0.15" textLength="16.41" lengthAdjust="spacingAndGlyphs">AML</text>
<text transform="translate(14.50,192.10) rotate(-90)" font-size="9.1" text-anchor="middle" fill="#222" stroke="#222" stroke-width="0.03" textLength="74.80" lengthAdjust="spacingAndGlyphs">MRC1 RNA abundance</text>
<text x="41.90" y="152.80" font-size="6.6" text-anchor="middle" fill="#222" stroke="#222" stroke-width="0.06" font-weight="normal" textLength="4.53" lengthAdjust="spacingAndGlyphs" >H</text>
<text x="64.23" y="204.30" font-size="6.6" text-anchor="middle" fill="#222" stroke="#222" stroke-width="0.06" font-weight="normal" textLength="1.74" lengthAdjust="spacingAndGlyphs" >I</text>
<text x="95.47" y="214.40" font-size="6.6" text-anchor="middle" fill="#222" stroke="#222" stroke-width="0.06" font-weight="normal" textLength="3.13" lengthAdjust="spacingAndGlyphs" >J</text>
<rect x="452.6" y="24.50" width="5.0" height="5.0" fill="#c50f33"/>
<text x="461.20" y="29.20" font-size="7.8" text-anchor="start" fill="#222" stroke="#222" stroke-width="0.12" font-weight="normal" textLength="15.08" lengthAdjust="spacingAndGlyphs" >AML</text>
<rect x="452.6" y="35.90" width="5.0" height="5.0" fill="#174a84"/>
<text x="461.20" y="40.60" font-size="7.8" text-anchor="start" fill="#222" stroke="#222" stroke-width="0.12" font-weight="normal" textLength="49.92" lengthAdjust="spacingAndGlyphs" >Healthy CD34+</text>
<rect x="452.6" y="47.30" width="5.0" height="5.0" fill="#fe9104"/>
<text x="461.20" y="52.00" font-size="7.8" text-anchor="start" fill="#222" stroke="#222" stroke-width="0.12" font-weight="normal" textLength="40.76" lengthAdjust="spacingAndGlyphs" >Healthy Lin&#8211;</text>
<rect x="443.8" y="153.60" width="5.0" height="5.0" fill="#c50f33"/>
<text x="452.40" y="158.30" font-size="7.8" text-anchor="start" fill="#222" stroke="#222" stroke-width="0.12" font-weight="normal" textLength="15.08" lengthAdjust="spacingAndGlyphs" >AML</text>
<rect x="443.8" y="164.85" width="5.0" height="5.0" fill="#29a8e0"/>
<text x="452.40" y="169.55" font-size="7.8" text-anchor="start" fill="#222" stroke="#222" stroke-width="0.12" font-weight="normal" textLength="23.03" lengthAdjust="spacingAndGlyphs" >CD19+</text>
<rect x="443.8" y="176.10" width="5.0" height="5.0" fill="#e5007e"/>
<text x="452.40" y="180.80" font-size="7.8" text-anchor="start" fill="#222" stroke="#222" stroke-width="0.12" font-weight="normal" textLength="18.95" lengthAdjust="spacingAndGlyphs" >CD3+</text>
<rect x="443.8" y="187.35" width="5.0" height="5.0" fill="#174a84"/>
<text x="452.40" y="192.05" font-size="7.8" text-anchor="start" fill="#222" stroke="#222" stroke-width="0.12" font-weight="normal" textLength="23.03" lengthAdjust="spacingAndGlyphs" >CD34+</text>
<rect x="485.4" y="153.60" width="5.0" height="5.0" fill="#fe9104"/>
<text x="494.00" y="158.30" font-size="8.0" text-anchor="start" fill="#222" stroke="#222" stroke-width="0.12" font-weight="normal" textLength="20.01" lengthAdjust="spacingAndGlyphs" >Mono</text>
<rect x="485.4" y="164.85" width="5.0" height="5.0" fill="#0b6a4c"/>
<text x="494.00" y="169.55" font-size="8.0" text-anchor="start" fill="#222" stroke="#222" stroke-width="0.12" font-weight="normal" textLength="14.68" lengthAdjust="spacingAndGlyphs" >Neu</text>
<rect x="485.4" y="176.10" width="5.0" height="5.0" fill="#8a80c2"/>
<text x="494.00" y="180.80" font-size="8.0" text-anchor="start" fill="#222" stroke="#222" stroke-width="0.12" font-weight="normal" textLength="12.45" lengthAdjust="spacingAndGlyphs" >Pro</text>
<rect x="116.4" y="283.60" width="5.2" height="5.2" fill="#c50f33"/>
<text x="125.30" y="288.80" font-size="7.9" text-anchor="start" fill="#222" stroke="#222" stroke-width="0.12" font-weight="normal" textLength="32.32" lengthAdjust="spacingAndGlyphs" >Blast gate</text>
<rect x="116.4" y="296.00" width="5.2" height="5.2" fill="#fe9104"/>
<text x="125.30" y="301.20" font-size="7.9" text-anchor="start" fill="#222" stroke="#222" stroke-width="0.12" font-weight="normal" textLength="35.14" lengthAdjust="spacingAndGlyphs" >Monocytes</text>
<rect x="116.4" y="308.40" width="5.2" height="5.2" fill="#174a84"/>
<text x="125.30" y="313.60" font-size="7.9" text-anchor="start" fill="#222" stroke="#222" stroke-width="0.12" font-weight="normal" textLength="22.83" lengthAdjust="spacingAndGlyphs" >CD34+</text>
<path d="M47.0,282.6 V356.0 H161.6" stroke="#111" stroke-width="1.15" fill="none"/>
<path d="M43.6,355.80 H47.0" stroke="#111" stroke-width="0.9"/>
<text x="40.60" y="358.30" font-size="8.0" text-anchor="end" fill="#222" stroke="#222" stroke-width="0.12" font-weight="normal" textLength="4.32" lengthAdjust="spacingAndGlyphs" >0</text>
<path d="M43.6,337.70 H47.0" stroke="#111" stroke-width="0.9"/>
<path d="M43.6,319.60 H47.0" stroke="#111" stroke-width="0.9"/>
<text x="40.60" y="322.10" font-size="8.0" text-anchor="end" fill="#222" stroke="#222" stroke-width="0.12" font-weight="normal" textLength="19.42" lengthAdjust="spacingAndGlyphs" >0.010</text>
<path d="M43.6,301.50 H47.0" stroke="#111" stroke-width="0.9"/>
<path d="M43.6,283.40 H47.0" stroke="#111" stroke-width="0.9"/>
<path d="M45.1,352.18 H47.0" stroke="#111" stroke-width="0.8"/>
<path d="M45.1,348.56 H47.0" stroke="#111" stroke-width="0.8"/>
<path d="M45.1,344.94 H47.0" stroke="#111" stroke-width="0.8"/>
<path d="M45.1,341.32 H47.0" stroke="#111" stroke-width="0.8"/>
<path d="M45.1,334.08 H47.0" stroke="#111" stroke-width="0.8"/>
<path d="M45.1,330.46 H47.0" stroke="#111" stroke-width="0.8"/>
<path d="M45.1,326.84 H47.0" stroke="#111" stroke-width="0.8"/>
<path d="M45.1,323.22 H47.0" stroke="#111" stroke-width="0.8"/>
<path d="M45.1,315.98 H47.0" stroke="#111" stroke-width="0.8"/>
<path d="M45.1,312.36 H47.0" stroke="#111" stroke-width="0.8"/>
<path d="M45.1,308.74 H47.0" stroke="#111" stroke-width="0.8"/>
<path d="M45.1,305.12 H47.0" stroke="#111" stroke-width="0.8"/>
<path d="M45.1,297.88 H47.0" stroke="#111" stroke-width="0.8"/>
<path d="M45.1,294.26 H47.0" stroke="#111" stroke-width="0.8"/>
<path d="M45.1,290.64 H47.0" stroke="#111" stroke-width="0.8"/>
<path d="M45.1,287.02 H47.0" stroke="#111" stroke-width="0.8"/>
<path d="M59.30,356.0 V359.4" stroke="#111" stroke-width="0.9"/>
<path d="M96.70,356.0 V359.4" stroke="#111" stroke-width="0.9"/>
<path d="M123.70,356.0 V359.4" stroke="#111" stroke-width="0.9"/>
<path d="M150.70,356.0 V359.4" stroke="#111" stroke-width="0.9"/>
<path d="M48.60,356.0 V358.4" stroke="#111" stroke-width="0.8"/>
<path d="M51.43,356.0 V358.4" stroke="#111" stroke-width="0.8"/>
<path d="M54.26,356.0 V358.4" stroke="#111" stroke-width="0.8"/>
<path d="M57.09,356.0 V358.4" stroke="#111" stroke-width="0.8"/>
<path d="M62.75,356.0 V358.4" stroke="#111" stroke-width="0.8"/>
<path d="M65.58,356.0 V358.4" stroke="#111" stroke-width="0.8"/>
<path d="M68.41,356.0 V358.4" stroke="#111" stroke-width="0.8"/>
<path d="M71.24,356.0 V358.4" stroke="#111" stroke-width="0.8"/>
<path d="M74.06,356.0 V358.4" stroke="#111" stroke-width="0.8"/>
<path d="M76.89,356.0 V358.4" stroke="#111" stroke-width="0.8"/>
<path d="M79.72,356.0 V358.4" stroke="#111" stroke-width="0.8"/>
<path d="M82.55,356.0 V358.4" stroke="#111" stroke-width="0.8"/>
<path d="M85.38,356.0 V358.4" stroke="#111" stroke-width="0.8"/>
<path d="M88.21,356.0 V358.4" stroke="#111" stroke-width="0.8"/>
<path d="M91.04,356.0 V358.4" stroke="#111" stroke-width="0.8"/>
<path d="M93.87,356.0 V358.4" stroke="#111" stroke-width="0.8"/>
<path d="M104.83,356.0 V358.4" stroke="#111" stroke-width="0.8"/>
<path d="M109.58,356.0 V358.4" stroke="#111" stroke-width="0.8"/>
<path d="M112.96,356.0 V358.4" stroke="#111" stroke-width="0.8"/>
<path d="M115.57,356.0 V358.4" stroke="#111" stroke-width="0.8"/>
<path d="M117.71,356.0 V358.4" stroke="#111" stroke-width="0.8"/>
<path d="M119.52,356.0 V358.4" stroke="#111" stroke-width="0.8"/>
<path d="M121.08,356.0 V358.4" stroke="#111" stroke-width="0.8"/>
<path d="M122.46,356.0 V358.4" stroke="#111" stroke-width="0.8"/>
<path d="M131.83,356.0 V358.4" stroke="#111" stroke-width="0.8"/>
<path d="M136.58,356.0 V358.4" stroke="#111" stroke-width="0.8"/>
<path d="M139.96,356.0 V358.4" stroke="#111" stroke-width="0.8"/>
<path d="M142.57,356.0 V358.4" stroke="#111" stroke-width="0.8"/>
<path d="M144.71,356.0 V358.4" stroke="#111" stroke-width="0.8"/>
<path d="M146.52,356.0 V358.4" stroke="#111" stroke-width="0.8"/>
<path d="M148.08,356.0 V358.4" stroke="#111" stroke-width="0.8"/>
<path d="M149.46,356.0 V358.4" stroke="#111" stroke-width="0.8"/>
<path d="M158.83,356.0 V358.4" stroke="#111" stroke-width="0.8"/>
<text transform="translate(14.50,322.30) rotate(-90)" font-size="9.4" text-anchor="middle" fill="#222" stroke="#222" stroke-width="0.06" textLength="29.50" lengthAdjust="spacingAndGlyphs">Unit area</text>
<text x="59.50" y="368.00" font-size="8.2" text-anchor="middle" fill="#222" stroke="#222" stroke-width="0.1" font-weight="normal" >0</text>
<text x="93.40" y="368.0" font-size="8.0" fill="#222" stroke="#222" stroke-width="0.1" text-anchor="start">10<tspan font-size="6.2" dy="-3.3">3</tspan></text>
<text x="146.30" y="368.0" font-size="8.0" fill="#222" stroke="#222" stroke-width="0.1" text-anchor="start">10<tspan font-size="6.2" dy="-3.3">5</tspan></text>
<text x="104.30" y="380.9" font-size="9.1" fill="#222" stroke="#222" stroke-width="0.1" text-anchor="middle" textLength="62" lengthAdjust="spacingAndGlyphs">MRC1 fluorescence</text>
<path d="M47.00,355.40 C47.50,355.33 49.13,355.23 50.00,355.00 C50.87,354.77 51.57,354.67 52.20,354.00 C52.83,353.33 53.37,352.18 53.80,351.00 C54.23,349.82 54.47,348.97 54.80,346.90 C55.13,344.83 55.45,341.70 55.80,338.60 C56.15,335.50 56.58,331.73 56.90,328.30 C57.22,324.87 57.47,321.22 57.70,318.00 C57.93,314.78 58.10,312.00 58.30,309.00 C58.50,306.00 58.68,303.50 58.90,300.00 C59.12,296.50 59.37,290.20 59.60,288.00 C59.83,285.80 60.07,286.80 60.30,286.80 C60.53,286.80 60.77,286.97 61.00,288.00 C61.23,289.03 61.37,291.00 61.70,293.00 C62.03,295.00 62.47,296.83 63.00,300.00 C63.53,303.17 64.47,309.33 64.90,312.00 C65.33,314.67 65.22,314.25 65.60,316.00 C65.98,317.75 66.63,320.48 67.20,322.50 C67.77,324.52 68.45,326.10 69.00,328.10 C69.55,330.10 69.95,332.27 70.50,334.50 C71.05,336.73 71.72,339.32 72.30,341.50 C72.88,343.68 73.33,345.85 74.00,347.60 C74.67,349.35 75.38,350.83 76.30,352.00 C77.22,353.17 78.05,354.07 79.50,354.60 C80.95,355.13 81.58,355.07 85.00,355.20 C88.42,355.33 87.50,355.37 100.00,355.40 C112.50,355.43 150.00,355.40 160.00,355.40" stroke="#174a84" stroke-width="1.25" fill="none" stroke-linejoin="round"/>
<path d="M47.00,354.60 C47.70,354.43 49.82,354.20 51.20,353.60 C52.58,353.00 53.93,352.03 55.30,351.00 C56.67,349.97 58.28,348.63 59.40,347.40 C60.52,346.17 60.92,345.52 62.00,343.60 C63.08,341.68 64.68,338.35 65.90,335.90 C67.12,333.45 68.40,330.58 69.30,328.90 C70.20,327.22 70.72,326.50 71.30,325.80 C71.88,325.10 72.28,325.03 72.80,324.70 C73.32,324.37 73.88,324.22 74.40,323.80 C74.92,323.38 75.38,322.18 75.90,322.20 C76.42,322.22 76.92,323.13 77.50,323.90 C78.08,324.67 78.88,325.70 79.40,326.80 C79.92,327.90 80.08,328.93 80.60,330.50 C81.12,332.07 81.83,334.05 82.50,336.20 C83.17,338.35 83.93,341.48 84.60,343.40 C85.27,345.32 85.55,346.38 86.50,347.70 C87.45,349.02 88.80,350.42 90.30,351.30 C91.80,352.18 92.92,352.45 95.50,353.00 C98.08,353.55 101.72,354.22 105.80,354.60 C109.88,354.98 110.97,355.15 120.00,355.30 C129.03,355.45 153.33,355.47 160.00,355.50" stroke="#fe9104" stroke-width="1.25" fill="none" stroke-linejoin="round"/>
<path d="M47.00,354.80 C47.70,354.87 49.82,355.23 51.20,355.20 C52.58,355.17 53.93,354.97 55.30,354.60 C56.67,354.23 58.28,353.72 59.40,353.00 C60.52,352.28 61.18,351.63 62.00,350.30 C62.82,348.97 63.53,347.02 64.30,345.00 C65.07,342.98 65.82,340.43 66.60,338.20 C67.38,335.97 68.28,333.08 69.00,331.60 C69.72,330.12 70.27,329.55 70.90,329.30 C71.53,329.05 72.10,329.38 72.80,330.10 C73.50,330.82 74.32,332.38 75.10,333.60 C75.88,334.82 76.58,335.98 77.50,337.40 C78.42,338.82 79.68,340.85 80.60,342.10 C81.52,343.35 81.90,343.90 83.00,344.90 C84.10,345.90 85.63,347.25 87.20,348.10 C88.77,348.95 90.17,349.52 92.40,350.00 C94.63,350.48 97.52,350.87 100.60,351.00 C103.68,351.13 108.32,350.93 110.90,350.80 C113.48,350.67 114.62,350.37 116.10,350.20 C117.58,350.03 118.70,349.97 119.80,349.80 C120.90,349.63 121.73,349.43 122.70,349.20 C123.67,348.97 124.48,348.43 125.60,348.40 C126.72,348.37 128.12,348.53 129.40,349.00 C130.68,349.47 132.02,350.43 133.30,351.20 C134.58,351.97 135.82,352.93 137.10,353.60 C138.38,354.27 139.55,354.85 141.00,355.20 C142.45,355.55 142.92,355.65 145.80,355.70 C148.68,355.75 156.22,355.53 158.30,355.50" stroke="#c50f33" stroke-width="1.25" fill="none" stroke-linejoin="round"/>
<path d="M233.1,282.7 V356.0 H329.2" stroke="#111" stroke-width="1.15" fill="none"/>
<path d="M229.7,355.40 H233.1" stroke="#111" stroke-width="0.9"/>
<text x="226.70" y="357.90" font-size="8.0" text-anchor="end" fill="#222" stroke="#222" stroke-width="0.12" font-weight="normal" textLength="4.32" lengthAdjust="spacingAndGlyphs" >0</text>
<path d="M229.7,331.60 H233.1" stroke="#111" stroke-width="0.9"/>
<text x="226.70" y="334.10" font-size="8.0" text-anchor="end" fill="#222" stroke="#222" stroke-width="0.12" font-weight="normal" textLength="19.42" lengthAdjust="spacingAndGlyphs" >0.004</text>
<path d="M229.7,307.70 H233.1" stroke="#111" stroke-width="0.9"/>
<text x="226.70" y="310.20" font-size="8.0" text-anchor="end" fill="#222" stroke="#222" stroke-width="0.12" font-weight="normal" textLength="19.42" lengthAdjust="spacingAndGlyphs" >0.008</text>
<path d="M229.7,283.80 H233.1" stroke="#111" stroke-width="0.9"/>
<path d="M231.2,352.41 H233.1" stroke="#111" stroke-width="0.8"/>
<path d="M231.2,349.42 H233.1" stroke="#111" stroke-width="0.8"/>
<path d="M231.2,346.43 H233.1" stroke="#111" stroke-width="0.8"/>
<path d="M231.2,340.45 H233.1" stroke="#111" stroke-width="0.8"/>
<path d="M231.2,337.46 H233.1" stroke="#111" stroke-width="0.8"/>
<path d="M231.2,334.47 H233.1" stroke="#111" stroke-width="0.8"/>
<path d="M231.2,328.49 H233.1" stroke="#111" stroke-width="0.8"/>
<path d="M231.2,325.50 H233.1" stroke="#111" stroke-width="0.8"/>
<path d="M231.2,322.51 H233.1" stroke="#111" stroke-width="0.8"/>
<path d="M231.2,316.53 H233.1" stroke="#111" stroke-width="0.8"/>
<path d="M231.2,313.54 H233.1" stroke="#111" stroke-width="0.8"/>
<path d="M231.2,310.55 H233.1" stroke="#111" stroke-width="0.8"/>
<path d="M231.2,304.57 H233.1" stroke="#111" stroke-width="0.8"/>
<path d="M231.2,301.58 H233.1" stroke="#111" stroke-width="0.8"/>
<path d="M231.2,298.59 H233.1" stroke="#111" stroke-width="0.8"/>
<path d="M231.2,292.61 H233.1" stroke="#111" stroke-width="0.8"/>
<path d="M231.2,289.62 H233.1" stroke="#111" stroke-width="0.8"/>
<path d="M231.2,286.63 H233.1" stroke="#111" stroke-width="0.8"/>
<path d="M250.20,356.0 V359.4" stroke="#111" stroke-width="0.9"/>
<path d="M301.30,356.0 V359.4" stroke="#111" stroke-width="0.9"/>
<path d="M328.30,356.0 V359.4" stroke="#111" stroke-width="0.9"/>
<path d="M235.00,356.0 V358.4" stroke="#111" stroke-width="0.8"/>
<path d="M237.88,356.0 V358.4" stroke="#111" stroke-width="0.8"/>
<path d="M240.77,356.0 V358.4" stroke="#111" stroke-width="0.8"/>
<path d="M243.65,356.0 V358.4" stroke="#111" stroke-width="0.8"/>
<path d="M246.53,356.0 V358.4" stroke="#111" stroke-width="0.8"/>
<path d="M252.30,356.0 V358.4" stroke="#111" stroke-width="0.8"/>
<path d="M255.18,356.0 V358.4" stroke="#111" stroke-width="0.8"/>
<path d="M258.06,356.0 V358.4" stroke="#111" stroke-width="0.8"/>
<path d="M260.94,356.0 V358.4" stroke="#111" stroke-width="0.8"/>
<path d="M263.83,356.0 V358.4" stroke="#111" stroke-width="0.8"/>
<path d="M266.71,356.0 V358.4" stroke="#111" stroke-width="0.8"/>
<path d="M269.59,356.0 V358.4" stroke="#111" stroke-width="0.8"/>
<path d="M272.47,356.0 V358.4" stroke="#111" stroke-width="0.8"/>
<path d="M275.36,356.0 V358.4" stroke="#111" stroke-width="0.8"/>
<path d="M278.24,356.0 V358.4" stroke="#111" stroke-width="0.8"/>
<path d="M281.12,356.0 V358.4" stroke="#111" stroke-width="0.8"/>
<path d="M284.00,356.0 V358.4" stroke="#111" stroke-width="0.8"/>
<path d="M286.89,356.0 V358.4" stroke="#111" stroke-width="0.8"/>
<path d="M289.77,356.0 V358.4" stroke="#111" stroke-width="0.8"/>
<path d="M292.65,356.0 V358.4" stroke="#111" stroke-width="0.8"/>
<path d="M295.53,356.0 V358.4" stroke="#111" stroke-width="0.8"/>
<path d="M298.42,356.0 V358.4" stroke="#111" stroke-width="0.8"/>
<path d="M309.43,356.0 V358.4" stroke="#111" stroke-width="0.8"/>
<path d="M314.18,356.0 V358.4" stroke="#111" stroke-width="0.8"/>
<path d="M317.56,356.0 V358.4" stroke="#111" stroke-width="0.8"/>
<path d="M320.17,356.0 V358.4" stroke="#111" stroke-width="0.8"/>
<path d="M322.31,356.0 V358.4" stroke="#111" stroke-width="0.8"/>
<path d="M324.12,356.0 V358.4" stroke="#111" stroke-width="0.8"/>
<path d="M325.68,356.0 V358.4" stroke="#111" stroke-width="0.8"/>
<path d="M327.06,356.0 V358.4" stroke="#111" stroke-width="0.8"/>
<text transform="translate(200.80,322.90) rotate(-90)" font-size="9.4" text-anchor="middle" fill="#222" stroke="#222" stroke-width="0.06" textLength="29.50" lengthAdjust="spacingAndGlyphs">Unit area</text>
<text x="250.30" y="368.00" font-size="8.2" text-anchor="middle" fill="#222" stroke="#222" stroke-width="0.1" font-weight="normal" >0</text>
<text x="297.40" y="368.0" font-size="8.0" fill="#222" stroke="#222" stroke-width="0.1" text-anchor="start">10<tspan font-size="6.2" dy="-3.3">3</tspan></text>
<text x="281.40" y="380.9" font-size="9.1" fill="#222" stroke="#222" stroke-width="0.1" text-anchor="middle" textLength="63.6" lengthAdjust="spacingAndGlyphs">MRC1 fluorescence</text>
<path d="M233.60,354.20 C234.03,354.08 235.08,353.87 236.20,353.50 C237.32,353.13 238.75,352.77 240.30,352.00 C241.85,351.23 243.95,350.45 245.50,348.90 C247.05,347.35 248.40,344.93 249.60,342.70 C250.80,340.47 251.85,337.57 252.70,335.50 C253.55,333.43 254.10,332.02 254.70,330.30 C255.30,328.58 255.82,326.92 256.30,325.20 C256.78,323.48 257.00,322.23 257.60,320.00 C258.20,317.77 259.00,315.05 259.90,311.80 C260.80,308.55 262.23,303.85 263.00,300.50 C263.77,297.15 264.07,293.25 264.50,291.70 C264.93,290.15 265.25,291.03 265.60,291.20 C265.95,291.37 266.27,292.50 266.60,292.70 C266.93,292.90 267.25,291.85 267.60,292.40 C267.95,292.95 268.33,294.40 268.70,296.00 C269.07,297.60 269.38,299.62 269.80,302.00 C270.22,304.38 270.75,307.13 271.20,310.30 C271.65,313.47 272.12,317.72 272.50,321.00 C272.88,324.28 273.17,327.25 273.50,330.00 C273.83,332.75 274.15,335.08 274.50,337.50 C274.85,339.92 275.22,342.50 275.60,344.50 C275.98,346.50 276.32,348.08 276.80,349.50 C277.28,350.92 277.72,352.05 278.50,353.00 C279.28,353.95 279.58,354.78 281.50,355.20 C283.42,355.62 282.25,355.45 290.00,355.50 C297.75,355.55 321.67,355.50 328.00,355.50" stroke="#174a84" stroke-width="1.25" fill="none" stroke-linejoin="round"/>
<path d="M233.20,306.60 C233.22,310.50 233.20,322.68 233.30,330.00 C233.40,337.32 233.45,346.83 233.80,350.50 C234.15,354.17 234.32,352.02 235.40,352.00 C236.48,351.98 238.62,350.83 240.30,350.40 C241.98,349.97 243.78,350.00 245.50,349.40 C247.22,348.80 249.07,347.67 250.60,346.80 C252.13,345.93 253.32,345.40 254.70,344.20 C256.08,343.00 257.52,341.57 258.90,339.60 C260.28,337.63 261.88,334.80 263.00,332.40 C264.12,330.00 264.92,327.27 265.60,325.20 C266.28,323.13 266.52,321.28 267.10,320.00 C267.68,318.72 268.50,318.80 269.10,317.50 C269.70,316.20 270.05,313.57 270.70,312.20 C271.35,310.83 272.23,309.62 273.00,309.30 C273.77,308.98 274.57,309.62 275.30,310.30 C276.03,310.98 276.72,312.02 277.40,313.40 C278.08,314.78 278.75,316.50 279.40,318.60 C280.05,320.70 280.67,323.27 281.30,326.00 C281.93,328.73 282.58,332.08 283.20,335.00 C283.82,337.92 284.32,340.93 285.00,343.50 C285.68,346.07 286.33,348.58 287.30,350.40 C288.27,352.22 289.27,353.55 290.80,354.40 C292.33,355.25 290.30,355.32 296.50,355.50 C302.70,355.68 322.75,355.50 328.00,355.50" stroke="#fe9104" stroke-width="1.25" fill="none" stroke-linejoin="round"/>
<path d="M233.30,355.00 C234.12,355.00 236.17,355.17 238.20,355.00 C240.23,354.83 243.43,354.42 245.50,354.00 C247.57,353.58 248.72,353.27 250.60,352.50 C252.48,351.73 254.90,350.87 256.80,349.40 C258.70,347.93 260.58,345.87 262.00,343.70 C263.42,341.53 264.28,339.05 265.30,336.40 C266.32,333.75 267.12,330.60 268.10,327.80 C269.08,325.00 270.17,321.83 271.20,319.60 C272.23,317.37 273.30,315.62 274.30,314.40 C275.30,313.18 276.25,312.27 277.20,312.30 C278.15,312.33 279.07,313.38 280.00,314.60 C280.93,315.82 281.87,317.80 282.80,319.60 C283.73,321.40 284.67,323.48 285.60,325.40 C286.53,327.32 287.48,329.22 288.40,331.10 C289.32,332.98 290.18,334.85 291.10,336.70 C292.02,338.55 292.82,340.33 293.90,342.20 C294.98,344.07 296.20,346.27 297.60,347.90 C299.00,349.53 300.75,350.92 302.30,352.00 C303.85,353.08 305.28,353.87 306.90,354.40 C308.52,354.93 309.82,355.03 312.00,355.20 C314.18,355.37 317.33,355.37 320.00,355.40 C322.67,355.43 326.67,355.40 328.00,355.40" stroke="#c50f33" stroke-width="1.25" fill="none" stroke-linejoin="round"/>
<path d="M233.2,306.8 V350" stroke="#fe9104" stroke-width="1.7"/>
<path d="M403.7,282.7 V356.0 H509.6" stroke="#111" stroke-width="1.15" fill="none"/>
<path d="M400.3,355.40 H403.7" stroke="#111" stroke-width="0.9"/>
<text x="397.30" y="357.90" font-size="8.0" text-anchor="end" fill="#222" stroke="#222" stroke-width="0.12" font-weight="normal" textLength="4.32" lengthAdjust="spacingAndGlyphs" >0</text>
<path d="M400.3,341.15 H403.7" stroke="#111" stroke-width="0.9"/>
<path d="M400.3,326.90 H403.7" stroke="#111" stroke-width="0.9"/>
<text x="397.30" y="329.40" font-size="8.0" text-anchor="end" fill="#222" stroke="#222" stroke-width="0.12" font-weight="normal" textLength="19.42" lengthAdjust="spacingAndGlyphs" >0.010</text>
<path d="M400.3,312.65 H403.7" stroke="#111" stroke-width="0.9"/>
<path d="M400.3,298.40 H403.7" stroke="#111" stroke-width="0.9"/>
<text x="397.30" y="300.90" font-size="8.0" text-anchor="end" fill="#222" stroke="#222" stroke-width="0.12" font-weight="normal" textLength="19.42" lengthAdjust="spacingAndGlyphs" >0.020</text>
<path d="M400.3,284.15 H403.7" stroke="#111" stroke-width="0.9"/>
<path d="M401.8,352.55 H403.7" stroke="#111" stroke-width="0.8"/>
<path d="M401.8,349.70 H403.7" stroke="#111" stroke-width="0.8"/>
<path d="M401.8,346.85 H403.7" stroke="#111" stroke-width="0.8"/>
<path d="M401.8,344.00 H403.7" stroke="#111" stroke-width="0.8"/>
<path d="M401.8,338.30 H403.7" stroke="#111" stroke-width="0.8"/>
<path d="M401.8,335.45 H403.7" stroke="#111" stroke-width="0.8"/>
<path d="M401.8,332.60 H403.7" stroke="#111" stroke-width="0.8"/>
<path d="M401.8,329.75 H403.7" stroke="#111" stroke-width="0.8"/>
<path d="M401.8,324.05 H403.7" stroke="#111" stroke-width="0.8"/>
<path d="M401.8,321.20 H403.7" stroke="#111" stroke-width="0.8"/>
<path d="M401.8,318.35 H403.7" stroke="#111" stroke-width="0.8"/>
<path d="M401.8,315.50 H403.7" stroke="#111" stroke-width="0.8"/>
<path d="M401.8,309.80 H403.7" stroke="#111" stroke-width="0.8"/>
<path d="M401.8,306.95 H403.7" stroke="#111" stroke-width="0.8"/>
<path d="M401.8,304.10 H403.7" stroke="#111" stroke-width="0.8"/>
<path d="M401.8,301.25 H403.7" stroke="#111" stroke-width="0.8"/>
<path d="M401.8,295.55 H403.7" stroke="#111" stroke-width="0.8"/>
<path d="M401.8,292.70 H403.7" stroke="#111" stroke-width="0.8"/>
<path d="M401.8,289.85 H403.7" stroke="#111" stroke-width="0.8"/>
<path d="M401.8,287.00 H403.7" stroke="#111" stroke-width="0.8"/>
<path d="M422.40,356.0 V359.4" stroke="#111" stroke-width="0.9"/>
<path d="M453.90,356.0 V359.4" stroke="#111" stroke-width="0.9"/>
<path d="M480.30,356.0 V359.4" stroke="#111" stroke-width="0.9"/>
<path d="M506.70,356.0 V359.4" stroke="#111" stroke-width="0.9"/>
<path d="M406.30,356.0 V358.4" stroke="#111" stroke-width="0.8"/>
<path d="M408.81,356.0 V358.4" stroke="#111" stroke-width="0.8"/>
<path d="M411.31,356.0 V358.4" stroke="#111" stroke-width="0.8"/>
<path d="M413.82,356.0 V358.4" stroke="#111" stroke-width="0.8"/>
<path d="M416.32,356.0 V358.4" stroke="#111" stroke-width="0.8"/>
<path d="M418.83,356.0 V358.4" stroke="#111" stroke-width="0.8"/>
<path d="M421.33,356.0 V358.4" stroke="#111" stroke-width="0.8"/>
<path d="M423.84,356.0 V358.4" stroke="#111" stroke-width="0.8"/>
<path d="M426.34,356.0 V358.4" stroke="#111" stroke-width="0.8"/>
<path d="M428.85,356.0 V358.4" stroke="#111" stroke-width="0.8"/>
<path d="M431.35,356.0 V358.4" stroke="#111" stroke-width="0.8"/>
<path d="M433.86,356.0 V358.4" stroke="#111" stroke-width="0.8"/>
<path d="M436.36,356.0 V358.4" stroke="#111" stroke-width="0.8"/>
<path d="M438.87,356.0 V358.4" stroke="#111" stroke-width="0.8"/>
<path d="M441.37,356.0 V358.4" stroke="#111" stroke-width="0.8"/>
<path d="M443.88,356.0 V358.4" stroke="#111" stroke-width="0.8"/>
<path d="M446.38,356.0 V358.4" stroke="#111" stroke-width="0.8"/>
<path d="M448.89,356.0 V358.4" stroke="#111" stroke-width="0.8"/>
<path d="M451.39,356.0 V358.4" stroke="#111" stroke-width="0.8"/>
<path d="M461.85,356.0 V358.4" stroke="#111" stroke-width="0.8"/>
<path d="M466.50,356.0 V358.4" stroke="#111" stroke-width="0.8"/>
<path d="M469.79,356.0 V358.4" stroke="#111" stroke-width="0.8"/>
<path d="M472.35,356.0 V358.4" stroke="#111" stroke-width="0.8"/>
<path d="M474.44,356.0 V358.4" stroke="#111" stroke-width="0.8"/>
<path d="M476.21,356.0 V358.4" stroke="#111" stroke-width="0.8"/>
<path d="M477.74,356.0 V358.4" stroke="#111" stroke-width="0.8"/>
<path d="M479.09,356.0 V358.4" stroke="#111" stroke-width="0.8"/>
<path d="M488.25,356.0 V358.4" stroke="#111" stroke-width="0.8"/>
<path d="M492.90,356.0 V358.4" stroke="#111" stroke-width="0.8"/>
<path d="M496.19,356.0 V358.4" stroke="#111" stroke-width="0.8"/>
<path d="M498.75,356.0 V358.4" stroke="#111" stroke-width="0.8"/>
<path d="M500.84,356.0 V358.4" stroke="#111" stroke-width="0.8"/>
<path d="M502.61,356.0 V358.4" stroke="#111" stroke-width="0.8"/>
<path d="M504.14,356.0 V358.4" stroke="#111" stroke-width="0.8"/>
<path d="M505.49,356.0 V358.4" stroke="#111" stroke-width="0.8"/>
<text transform="translate(372.60,322.50) rotate(-90)" font-size="9.4" text-anchor="middle" fill="#222" stroke="#222" stroke-width="0.06" textLength="29.50" lengthAdjust="spacingAndGlyphs">Unit area</text>
<text x="422.50" y="368.00" font-size="8.2" text-anchor="middle" fill="#222" stroke="#222" stroke-width="0.1" font-weight="normal" >0</text>
<text x="450.30" y="368.0" font-size="8.0" fill="#222" stroke="#222" stroke-width="0.1" text-anchor="start">10<tspan font-size="6.2" dy="-3.3">3</tspan></text>
<text x="502.30" y="368.0" font-size="8.0" fill="#222" stroke="#222" stroke-width="0.1" text-anchor="start">10<tspan font-size="6.2" dy="-3.3">5</tspan></text>
<text x="456.80" y="380.9" font-size="9.1" fill="#222" stroke="#222" stroke-width="0.1" text-anchor="middle" textLength="63.6" lengthAdjust="spacingAndGlyphs">MRC1 fluorescence</text>
<path d="M404.50,355.30 C405.47,355.12 408.65,354.93 410.30,354.20 C411.95,353.47 413.37,352.48 414.40,350.90 C415.43,349.32 415.98,347.27 416.50,344.70 C417.02,342.13 417.18,338.78 417.50,335.50 C417.82,332.22 418.13,328.92 418.40,325.00 C418.67,321.08 418.82,316.08 419.10,312.00 C419.38,307.92 419.78,303.08 420.10,300.50 C420.42,297.92 420.65,297.37 421.00,296.50 C421.35,295.63 421.82,295.30 422.20,295.30 C422.58,295.30 422.97,295.78 423.30,296.50 C423.63,297.22 423.87,297.22 424.20,299.60 C424.53,301.98 424.93,307.22 425.30,310.80 C425.67,314.38 426.02,317.57 426.40,321.10 C426.78,324.63 427.20,328.60 427.60,332.00 C428.00,335.40 428.37,339.00 428.80,341.50 C429.23,344.00 429.67,345.43 430.20,347.00 C430.73,348.57 431.02,349.73 432.00,350.90 C432.98,352.07 434.77,353.30 436.10,354.00 C437.43,354.70 437.68,354.87 440.00,355.10 C442.32,355.33 438.50,355.35 450.00,355.40 C461.50,355.45 499.17,355.40 509.00,355.40" stroke="#174a84" stroke-width="1.25" fill="none" stroke-linejoin="round"/>
<path d="M404.50,355.00 C404.78,354.92 405.07,354.83 406.20,354.50 C407.33,354.17 409.75,353.77 411.30,353.00 C412.85,352.23 414.28,351.45 415.50,349.90 C416.72,348.35 417.58,346.45 418.60,343.70 C419.62,340.95 420.67,336.67 421.60,333.40 C422.53,330.13 423.30,326.28 424.20,324.10 C425.10,321.92 426.05,320.30 427.00,320.30 C427.95,320.30 428.90,321.92 429.90,324.10 C430.90,326.28 432.07,330.42 433.00,333.40 C433.93,336.38 434.78,339.65 435.50,342.00 C436.22,344.35 436.62,345.78 437.30,347.50 C437.98,349.22 438.45,351.03 439.60,352.30 C440.75,353.57 440.80,354.57 444.20,355.10 C447.60,355.63 449.20,355.43 460.00,355.50 C470.80,355.57 500.83,355.50 509.00,355.50" stroke="#fe9104" stroke-width="1.25" fill="none" stroke-linejoin="round"/>
<path d="M403.90,351.60 C404.12,352.02 404.77,353.62 405.20,354.10 C405.63,354.58 405.78,354.48 406.50,354.50 C407.22,354.52 408.35,354.45 409.50,354.20 C410.65,353.95 412.12,353.52 413.40,353.00 C414.68,352.48 415.92,351.93 417.20,351.10 C418.48,350.27 419.82,348.97 421.10,348.00 C422.38,347.03 423.62,346.20 424.90,345.30 C426.18,344.40 427.52,343.25 428.80,342.60 C430.08,341.95 431.32,341.62 432.60,341.40 C433.88,341.18 435.33,341.22 436.50,341.30 C437.67,341.38 438.32,341.42 439.60,341.90 C440.88,342.38 442.47,343.52 444.20,344.20 C445.93,344.88 448.08,345.48 450.00,346.00 C451.92,346.52 453.78,346.85 455.70,347.30 C457.62,347.75 459.57,348.20 461.50,348.70 C463.43,349.20 465.18,349.65 467.30,350.30 C469.42,350.95 471.90,351.87 474.20,352.60 C476.50,353.33 478.40,354.20 481.10,354.70 C483.80,355.20 486.28,355.42 490.40,355.60 C494.52,355.78 503.23,355.77 505.80,355.80" stroke="#c50f33" stroke-width="1.25" fill="none" stroke-linejoin="round"/>
<rect x="0.5" y="0.5" width="518.8" height="386.8" fill="none" stroke="#000" stroke-width="1.2"/>
</svg>
</body></html>
